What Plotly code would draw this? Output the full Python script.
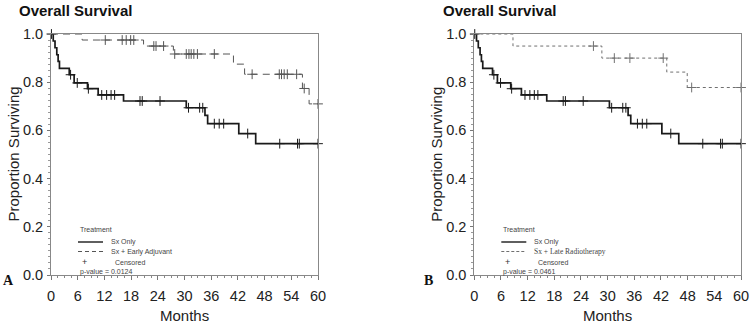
import plotly.graph_objects as go

# ---------------- data ----------------
# Sx Only (same cohort in both panels)
sx_only_event_months = [0.5, 0.9, 1.3, 1.6, 1.9, 4.1, 5.2, 8.2, 10.6, 16.3, 30.4, 34.6, 35.2, 42.2, 46.0]
sx_only_survival = [0.971, 0.943, 0.914, 0.886, 0.857, 0.831, 0.797, 0.773, 0.747, 0.722, 0.694, 0.662, 0.628, 0.587, 0.545]
sx_only_censored = [0.1, 4.4, 5.9, 8.4, 11.4, 12.5, 13.5, 14.3, 20.0, 20.5, 24.5, 30.9, 33.4, 34.1,
                    36.7, 37.8, 38.8, 44.2, 51.4, 55.4, 55.8, 60.0]

# Sx + Early Adjuvant (panel A)
early_event_months = [7.0, 20.8, 27.5, 41.0, 43.5, 56.5, 58.0]
early_survival = [0.975, 0.95, 0.917, 0.875, 0.833, 0.774, 0.71]
early_censored = [12.2, 16.0, 16.9, 17.9, 18.6, 23.1, 23.6, 25.3, 27.8, 30.4, 31.0, 31.5, 32.1, 32.9,
                  36.7, 45.2, 51.3, 51.8, 52.4, 53.1, 55.2, 56.9, 60.0]

# Sx + Late Radiotherapy (panel B)
late_event_months = [8.7, 28.7, 43.3, 47.9]
late_survival = [0.95, 0.90, 0.842, 0.778]
late_censored = [26.8, 31.5, 35.0, 42.5, 48.9, 60.0]

x_ticks = [0, 6, 12, 18, 24, 30, 36, 42, 48, 54, 60]
y_ticks = [0.0, 0.2, 0.4, 0.6, 0.8, 1.0]
p_values = ["p-value = 0.0124", "p-value = 0.0461"]
panel_labels = ["A", "B"]
group_names = ["Sx + Early Adjuvant", "Sx + Late Radiotherapy"]
max_month = 60


def step_xy(times, surv):
    xs = [0] + list(times) + [max_month]
    ys = [1.0] + list(surv) + [surv[-1]]
    return xs, ys


def surv_at(times, surv, t):
    s = 1.0
    for ti, si in zip(times, surv):
        if ti <= t:
            s = si
    return s


fig = go.Figure()

BLACK = "#1a1a1a"
GRAY_A = "#555555"
GRAY_B = "#707070"

panels = [
    ("x", "y", early_event_months, early_survival, early_censored, "7px,5px", GRAY_A),
    ("x2", "y2", late_event_months, late_survival, late_censored, "3px,3px", GRAY_B),
]

for xa, ya, ev, sv, cen, dash, gcol in panels:
    # Sx only
    xs, ys = step_xy(sx_only_event_months, sx_only_survival)
    fig.add_trace(go.Scatter(x=xs, y=ys, mode="lines", line=dict(color=BLACK, width=1.7, shape="hv"),
                             xaxis=xa, yaxis=ya, showlegend=False, hoverinfo="skip"))
    fig.add_trace(go.Scatter(x=sx_only_censored,
                             y=[surv_at(sx_only_event_months, sx_only_survival, c) for c in sx_only_censored],
                             mode="markers",
                             marker=dict(symbol="cross-thin", size=7, line=dict(color=BLACK, width=1)),
                             xaxis=xa, yaxis=ya, showlegend=False, hoverinfo="skip", cliponaxis=False))
    # comparison group
    xs, ys = step_xy(ev, sv)
    fig.add_trace(go.Scatter(x=xs, y=ys, mode="lines", line=dict(color=gcol, width=1, shape="hv", dash=dash),
                             xaxis=xa, yaxis=ya, showlegend=False, hoverinfo="skip"))
    fig.add_trace(go.Scatter(x=cen, y=[surv_at(ev, sv, c) for c in cen], mode="markers",
                             marker=dict(symbol="cross-thin", size=7, line=dict(color=gcol, width=1)),
                             xaxis=xa, yaxis=ya, showlegend=False, hoverinfo="skip", cliponaxis=False))

W, H = 750, 324
left_dom = [51 / W, 318 / W]
right_dom = [474.3 / W, 741 / W]
y_dom = [(H - 275) / H, (H - 34) / H]

tickfont = dict(family="Liberation Sans, Arial, sans-serif", size=14.5, color="#222")

xcommon = dict(range=[0, max_month], tickvals=x_ticks, ticks="outside", ticklen=4, tickcolor="#777",
               showline=True, linecolor="#888", linewidth=1, mirror=True, showgrid=False, zeroline=False,
               tickfont=tickfont, ticklabelstandoff=4, ticklabeloverflow="allow", automargin=False,
               minor=dict(dtick=1.5, ticks="outside", ticklen=2, tickcolor="#888"))
ycommon = dict(range=[0, 1.0], tickvals=y_ticks, tickformat=".1f", ticks="outside", ticklen=3, tickcolor="#777",
               showline=True, linecolor="#888", linewidth=1, mirror=True, showgrid=False, zeroline=False,
               tickfont=tickfont, ticklabelstandoff=1, ticklabeloverflow="allow", automargin=False,
               minor=dict(dtick=0.025, ticks="outside", ticklen=2, tickcolor="#999"))

fig.update_layout(
    width=W, height=H, margin=dict(l=0, r=0, t=0, b=0, autoexpand=False),
    paper_bgcolor="white", plot_bgcolor="white", showlegend=False,
    xaxis=dict(domain=left_dom, anchor="y", **xcommon),
    yaxis=dict(domain=y_dom, anchor="x", **ycommon),
    xaxis2=dict(domain=right_dom, anchor="y2", **xcommon),
    yaxis2=dict(domain=y_dom, anchor="x2", **ycommon),
)

ann = []
sans = "Liberation Sans, Arial, sans-serif"
serif = "Liberation Serif, Times New Roman, serif"
LEG = "#444444"
for i, dom in enumerate([left_dom, right_dom]):
    x0px = dom[0] * W
    # title
    ann.append(dict(text="<b>Overall Survival</b>", x=(17 if i == 0 else 441) / W, y=1 - 10 / H,
                    xref="paper", yref="paper", xanchor="left", yanchor="middle", showarrow=False,
                    font=dict(family=sans, size=15, color="#111")))
    # axis titles
    ann.append(dict(text="Proportion Surviving", x=(x0px - 38) / W, y=1 - 154.5 / H, xref="paper", yref="paper",
                    textangle=-90, xanchor="center", yanchor="middle", showarrow=False,
                    font=dict(family=sans, size=15, color="#222")))
    ann.append(dict(text="Months", x=(dom[0] + dom[1]) / 2, y=1 - 315 / H, xref="paper", yref="paper",
                    xanchor="center", yanchor="middle", showarrow=False,
                    font=dict(family=sans, size=15, color="#222")))
    # panel label
    ann.append(dict(text="<b>%s</b>" % panel_labels[i], x=(8 if i == 0 else 428.5) / W, y=1 - 280 / H,
                    xref="paper", yref="paper", xanchor="center", yanchor="middle", showarrow=False,
                    font=dict(family=serif, size=14, color="#111")))
    # legend block
    lx = x0px + 27
    ann.append(dict(text="Treatment", x=lx / W, y=1 - 229 / H, xref="paper", yref="paper",
                    xanchor="left", yanchor="middle", showarrow=False, font=dict(family=sans, size=7, color=LEG)))
    ann.append(dict(text="Sx Only", x=(lx + 31) / W, y=1 - 242 / H, xref="paper", yref="paper",
                    xanchor="left", yanchor="middle", showarrow=False, font=dict(family=sans, size=7, color=LEG)))
    ann.append(dict(text=group_names[i], x=(lx + 31) / W, y=1 - 251.5 / H, xref="paper", yref="paper",
                    xanchor="left", yanchor="middle", showarrow=False,
                    font=dict(family=(sans if i == 0 else serif), size=(7 if i == 0 else 7.5), color=LEG)))
    ann.append(dict(text="+", x=(lx + 6) / W, y=1 - 262 / H, xref="paper", yref="paper",
                    xanchor="center", yanchor="middle", showarrow=False, font=dict(family=sans, size=9, color="#333")))
    ann.append(dict(text="Censored", x=(lx + 35) / W, y=1 - 262 / H, xref="paper", yref="paper",
                    xanchor="left", yanchor="middle", showarrow=False, font=dict(family=sans, size=7, color=LEG)))
    ann.append(dict(text=p_values[i], x=lx / W, y=1 - 271.5 / H, xref="paper", yref="paper",
                    xanchor="left", yanchor="middle", showarrow=False, font=dict(family=sans, size=7, color=LEG)))

fig.update_layout(annotations=ann)

shapes = []
for i, dom in enumerate([left_dom, right_dom]):
    lx = dom[0] * W + 27
    shapes.append(dict(type="line", xref="paper", yref="paper", x0=lx / W, x1=(lx + 25) / W,
                       y0=1 - 242 / H, y1=1 - 242 / H, line=dict(color=BLACK, width=1.4)))
    shapes.append(dict(type="line", xref="paper", yref="paper", x0=lx / W, x1=(lx + 25) / W,
                       y0=1 - 251.5 / H, y1=1 - 251.5 / H,
                       line=dict(color=(GRAY_A if i == 0 else GRAY_B), width=1,
                                 dash=("4px,3px" if i == 0 else "3px,2px"))))
fig.update_layout(shapes=shapes)

fig.write_html(
    "out.html",
    config={"displayModeBar": False, "staticPlot": True},
    post_script="document.body.style.margin='0px';document.body.style.padding='0px';"
                "document.body.style.overflow='hidden';",
)
